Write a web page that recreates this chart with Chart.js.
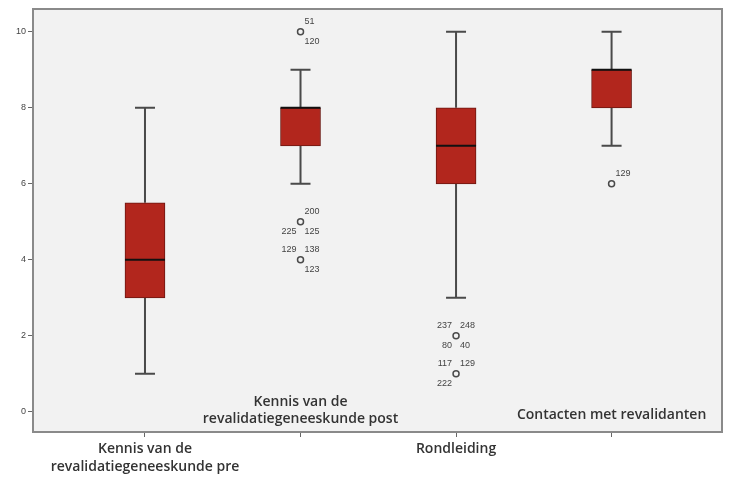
<!DOCTYPE html>
<html lang="nl">
  <head>
    <meta charset="UTF-8" />
    <title>Boxplot</title>
    <script src="https://cdn.jsdelivr.net/npm/chart.js"></script>
    <style>
      html, body { margin: 0; padding: 0; background: #fff; }
      #wrap { width: 733px; height: 477px; }
    </style>
  </head>
  <body>
    <div id="wrap"><canvas id="box"></canvas></div>
    <script>
      // values
      const categories = [
        ["Kennis van de", "revalidatiegeneeskunde pre"],
        ["Kennis van de", "revalidatiegeneeskunde post"],
        ["Rondleiding"],
        ["Contacten met revalidanten"],
      ];
      const whiskerLow = [1, 6, 3, 7];
      const q1 = [3, 7, 6, 8];
      const median = [4, 8, 7, 9];
      const q3 = [5.5, 8, 8, 9];
      const whiskerHigh = [8, 9, 10, 10];

      const outlierCat = [2, 2, 2, 3, 3, 4];
      const outlierVal = [10, 5, 4, 2, 1, 6];
      const outlierIds = [
        ["51", "120"],
        ["200", "225", "125"],
        ["129", "138", "123"],
        ["237", "248", "80", "40"],
        ["117", "129", "222"],
        ["129"],
      ];
      const yTicks = [0, 2, 4, 6, 8, 10];

      // where each case number sits around its circle
      const idSpots = [
        ["ur", "lr"],
        ["ur", "ll", "lr"],
        ["ul", "ur", "lr"],
        ["ul", "ur", "ll", "lr"],
        ["ul", "ur", "ll"],
        ["ur"],
      ];
      // distance of the last line of the inside labels above the axis
      const insideLift = [0, 13, 0, 17];

      const labelFont = "600 14px 'Open Sans', sans-serif";
      const textColor = "#333";

      const panel = {
        id: "panel",
        beforeDraw(chart) {
          const { ctx, chartArea: a } = chart;
          ctx.save();
          ctx.fillStyle = "#f2f2f2";
          ctx.fillRect(a.left, a.top, a.right - a.left, a.bottom - a.top);
          ctx.restore();
        },
        afterDraw(chart) {
          const { ctx, chartArea: a } = chart;
          ctx.save();
          ctx.strokeStyle = "#8a8a8a";
          ctx.lineWidth = 2;
          ctx.strokeRect(a.left, a.top, a.right - a.left, a.bottom - a.top);
          ctx.restore();
        },
      };

      const whiskers = {
        id: "whiskers",
        beforeDatasetsDraw(chart) {
          const { ctx, scales } = chart;
          ctx.save();
          ctx.strokeStyle = "#4a4a4a";
          ctx.lineWidth = 2;
          categories.forEach((c, i) => {
            const x = scales.x.getPixelForValue(i + 1);
            const lo = scales.y.getPixelForValue(whiskerLow[i]);
            const hi = scales.y.getPixelForValue(whiskerHigh[i]);
            const b1 = scales.y.getPixelForValue(q1[i]);
            const b3 = scales.y.getPixelForValue(q3[i]);
            ctx.beginPath();
            ctx.moveTo(x, hi);
            ctx.lineTo(x, b3);
            ctx.moveTo(x, b1);
            ctx.lineTo(x, lo);
            ctx.moveTo(x - 10, hi);
            ctx.lineTo(x + 10, hi);
            ctx.moveTo(x - 10, lo);
            ctx.lineTo(x + 10, lo);
            ctx.stroke();
          });
          ctx.restore();
        },
        afterDatasetsDraw(chart) {
          const { ctx, scales } = chart;
          ctx.save();
          // medians
          ctx.strokeStyle = "#111";
          ctx.lineWidth = 2;
          categories.forEach((c, i) => {
            const x = scales.x.getPixelForValue(i + 1);
            const y = scales.y.getPixelForValue(median[i]);
            ctx.beginPath();
            ctx.moveTo(x - 20, y);
            ctx.lineTo(x + 20, y);
            ctx.stroke();
          });
          // case numbers next to outliers
          ctx.font = "9px 'Liberation Sans', Arial, sans-serif";
          ctx.fillStyle = "#444";
          ctx.textBaseline = "middle";
          outlierCat.forEach((c, i) => {
            const cx = scales.x.getPixelForValue(c);
            const cy = scales.y.getPixelForValue(outlierVal[i]);
            outlierIds[i].forEach((id, k) => {
              const s = idSpots[i][k];
              const dy = s[0] === "u" ? -10 : 10;
              if (s[1] === "r") {
                ctx.textAlign = "left";
                ctx.fillText(id, cx + 4, cy + dy);
              } else {
                ctx.textAlign = "right";
                ctx.fillText(id, cx - 4, cy + dy);
              }
            });
          });
          // staggered category labels inside the plot
          ctx.font = labelFont;
          ctx.fillStyle = textColor;
          ctx.textAlign = "center";
          categories.forEach((lines, i) => {
            if (i % 2 === 0) return;
            const x = scales.x.getPixelForValue(i + 1);
            const last = scales.y.bottom - insideLift[i];
            lines.forEach((t, k) => {
              ctx.fillText(t, x, last - (lines.length - 1 - k) * 17);
            });
          });
          ctx.restore();
        },
      };

      new Chart(document.getElementById("box"), {
        type: "bar",
        data: {
          datasets: [
            {
              type: "bar",
              data: categories.map((c, i) => ({ x: i + 1, y: [q1[i], q3[i]] })),
              backgroundColor: "#b2261d",
              borderColor: "#6b1711",
              borderWidth: 1,
              borderSkipped: false,
              barThickness: 40,
            },
            {
              type: "scatter",
              data: outlierCat.map((c, i) => ({ x: c, y: outlierVal[i] })),
              pointRadius: 3,
              pointBackgroundColor: "rgba(0,0,0,0)",
              pointBorderColor: "#4a4a4a",
              pointBorderWidth: 1.5,
            },
          ],
        },
        options: {
          responsive: true,
          maintainAspectRatio: false,
          animation: false,
          layout: { padding: { top: 9, right: 11, left: 0, bottom: 0 } },
          plugins: { legend: { display: false }, tooltip: { enabled: false } },
          scales: {
            x: {
              type: "linear",
              min: 0.28,
              max: 4.71,
              offset: false,
              afterBuildTicks: (s) => {
                s.ticks = categories.map((c, i) => ({ value: i + 1 }));
              },
              afterFit: (s) => {
                s.height = 45;
              },
              ticks: {
                autoSkip: false,
                maxRotation: 0,
                padding: 3,
                color: textColor,
                font: { family: "'Open Sans', sans-serif", size: 14, weight: 600, lineHeight: 1.28 },
                callback: (v) => (v % 2 === 1 ? categories[v - 1] : ""),
              },
              grid: { offset: false, drawOnChartArea: false, tickLength: 5, tickColor: "#666", tickWidth: 1 },
              border: { color: "#8a8a8a", width: 2 },
            },
            y: {
              min: -0.53,
              max: 10.6,
              afterBuildTicks: (s) => {
                s.ticks = yTicks.map((v) => ({ value: v }));
              },
              afterFit: (s) => {
                s.width = 33;
              },
              ticks: {
                padding: 2,
                color: "#444",
                font: { family: "'Liberation Sans', Arial, sans-serif", size: 9 },
              },
              grid: { drawOnChartArea: false, tickLength: 5, tickColor: "#666", tickWidth: 1 },
              border: { color: "#8a8a8a", width: 2 },
            },
          },
        },
        plugins: [panel, whiskers],
      });
    </script>
  </body>
</html>
